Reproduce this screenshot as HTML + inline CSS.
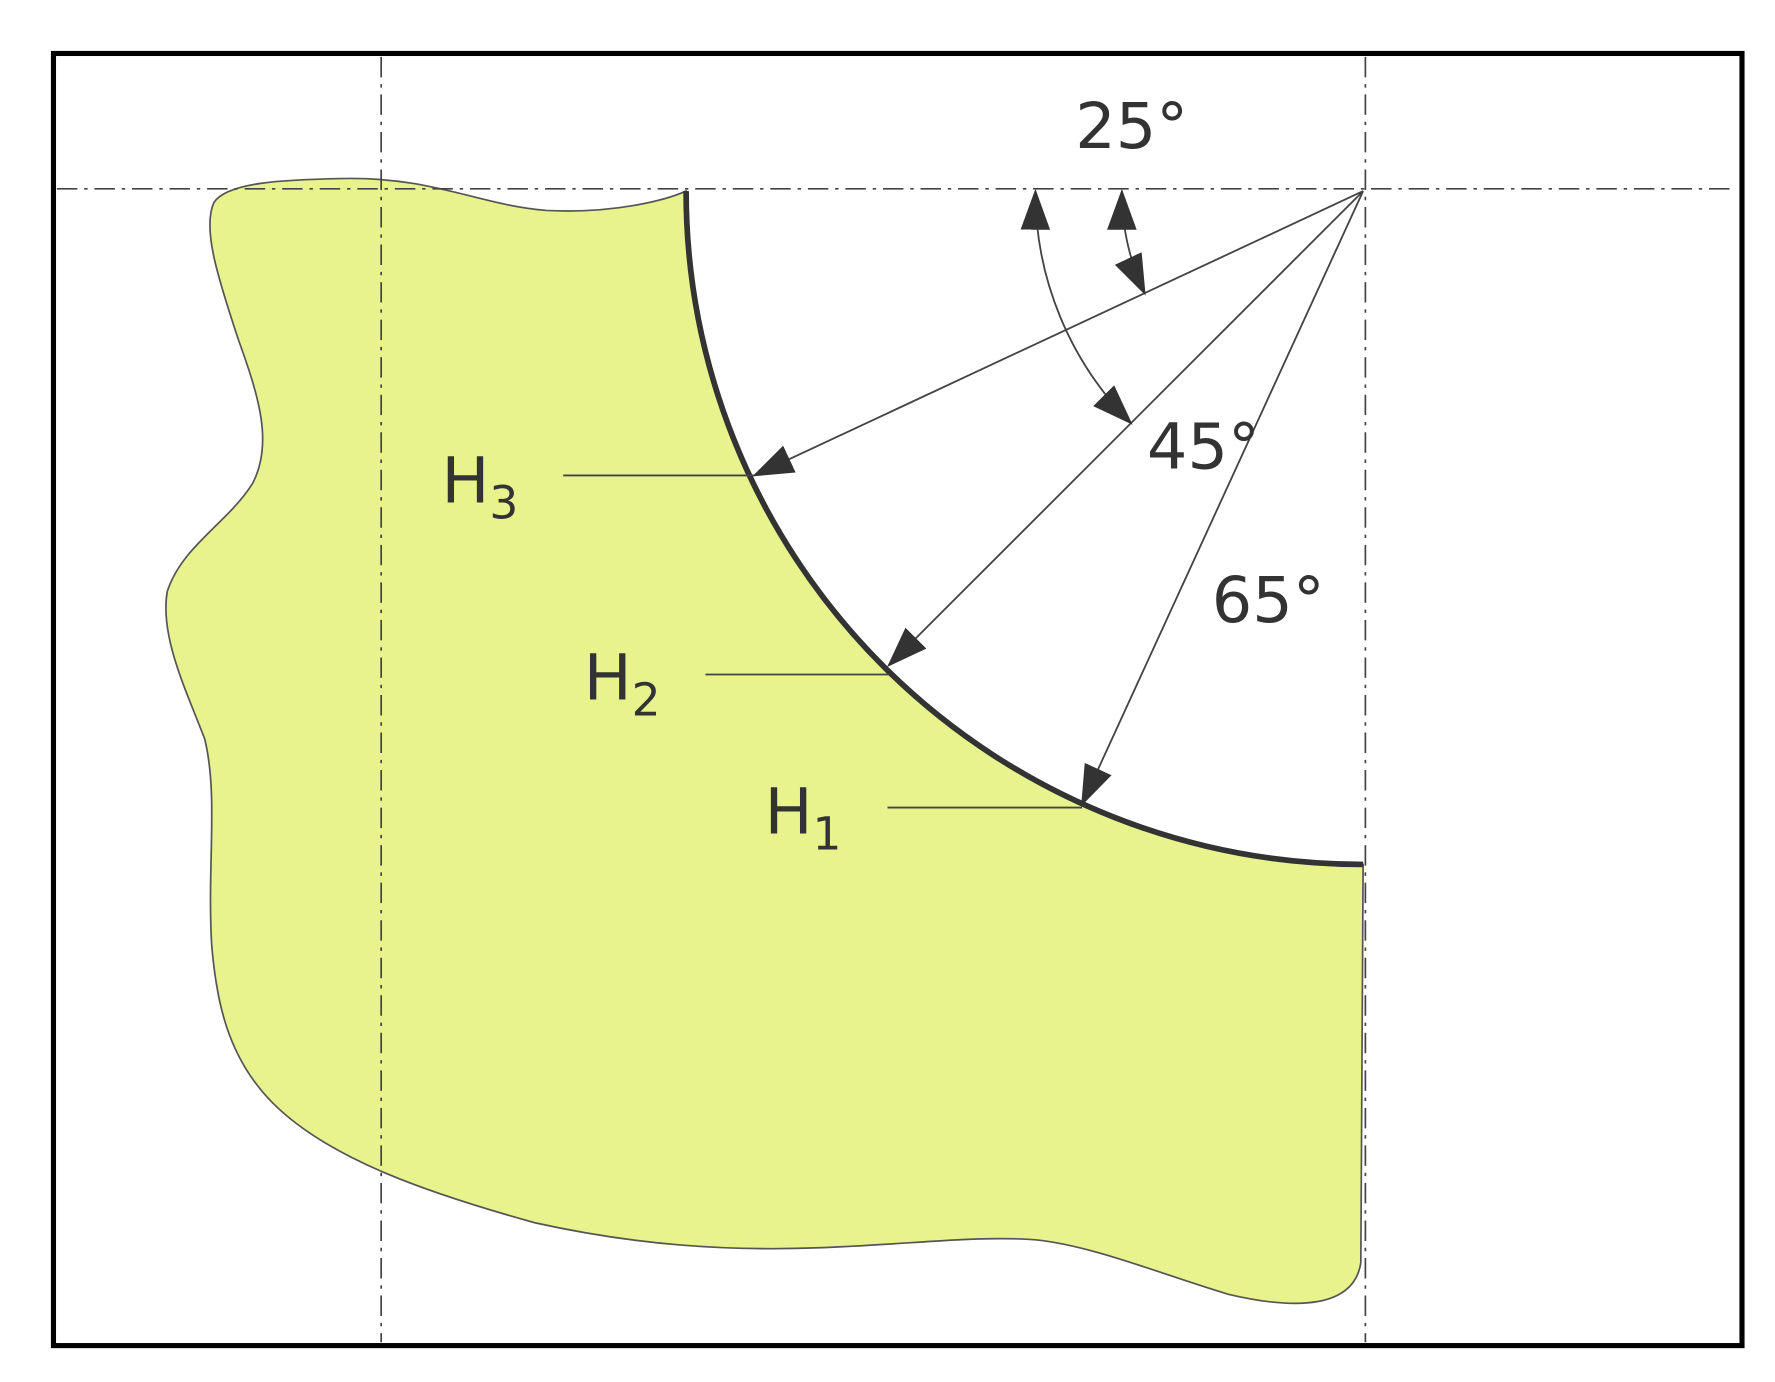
<!DOCTYPE html>
<html><head><meta charset="utf-8"><style>html,body{margin:0;padding:0;background:#fff}svg{display:block}</style></head>
<body>
<svg width="1775" height="1382" viewBox="0 0 1560 1215" preserveAspectRatio="none" xmlns="http://www.w3.org/2000/svg">
<defs>
<marker id="ah" markerUnits="userSpaceOnUse" markerWidth="40" markerHeight="30" refX="34" refY="13" orient="auto">
<path d="M0,0 L36,13 L0,26 Z" fill="#333"/>
</marker>
<marker id="as" markerUnits="userSpaceOnUse" markerWidth="40" markerHeight="30" refX="34" refY="13" orient="auto-start-reverse">
<path d="M0,0 L36,13 L0,26 Z" fill="#333"/>
</marker>
</defs>
<rect x="0" y="0" width="1560" height="1215" fill="#fff"/>
<path d="M603,168 C585,176 540,188 480,185 C420,180 380,155 300,157 C250,158 200,160 188,178 C178,200 190,240 210,300 C228,350 240,390 222,425 C200,460 160,480 147,520 C140,560 165,610 180,650 C192,700 182,760 186,830 C190,880 200,930 240,970 C290,1020 380,1050 470,1075 C560,1095 640,1100 720,1097 C800,1094 860,1086 910,1090 C960,1095 1020,1120 1080,1138 C1140,1152 1190,1150 1196,1110 L1198,760 A592,592 0 0 1 603,168 Z" fill="#e8f38d" stroke="#555" stroke-width="1.5"/>
<g stroke="#444" stroke-width="1.5" stroke-dasharray="18,6,3,6" fill="none">
<line x1="50" y1="166" x2="1525" y2="166"/>
<line x1="335" y1="50" x2="335" y2="1180"/>
<line x1="1200" y1="50" x2="1200" y2="1180"/>
</g>
<path d="M603,168 A595,592 0 0 0 1198,760" fill="none" stroke="#333" stroke-width="5"/>
<g stroke="#444" stroke-width="1.6" fill="none">
<line x1="1198" y1="168" x2="663" y2="418" marker-end="url(#ah)"/>
<line x1="1198" y1="168" x2="781" y2="585" marker-end="url(#ah)"/>
<line x1="1198" y1="168" x2="951" y2="707" marker-end="url(#ah)"/>
<path d="M986,168 A212,212 0 0 0 1006,258" marker-start="url(#as)" marker-end="url(#ah)"/>
<path d="M910,168 A288,288 0 0 0 994,372" marker-start="url(#as)" marker-end="url(#ah)"/>
<line x1="495" y1="418" x2="663" y2="418"/>
<line x1="620" y1="593" x2="781" y2="593"/>
<line x1="780" y1="710" x2="951" y2="710"/>
</g>
<rect x="47" y="47" width="1484" height="1136" fill="none" stroke="#000" stroke-width="4.5"/>
<g font-family="'DejaVu Sans','Liberation Sans',sans-serif" fill="#333" font-size="56">
<text x="945" y="130">25°</text>
<text x="1008" y="412">45°</text>
<text x="1065" y="547">65°</text>
<text x="388" y="442">H<tspan font-size="40" dy="14">3</tspan></text>
<text x="513" y="615">H<tspan font-size="40" dy="14">2</tspan></text>
<text x="672" y="733">H<tspan font-size="40" dy="14">1</tspan></text>
</g>
</svg>
</body></html>
